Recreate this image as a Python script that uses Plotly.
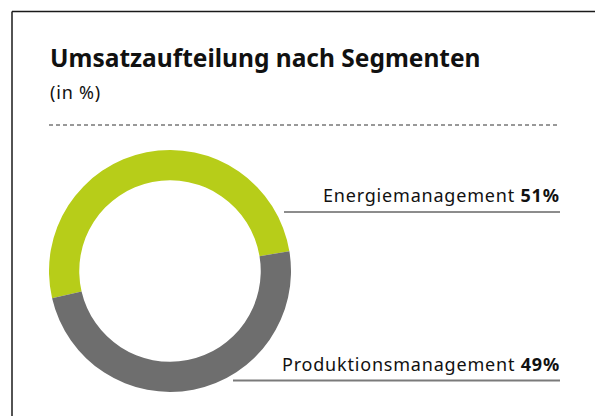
"""
Donut: Umsatzaufteilung nach Segmenten.
"""
import plotly.graph_objects as go

# Daten
segmente = ['Energiemanagement', 'Produktionsmanagement']
anteile = [51, 49]
farben = ['#b7cd19', '#6e6e6e']

W, H = 595, 416
FONT = 'Noto Sans'
SPACING = 'letter-spacing:0.8px'


def px(x, y):
    """Pixel (oben links) -> paper-Koordinaten."""
    return x / W, 1 - y / H


fig = go.Figure()

# Donut
x0, y0 = px(49, 392)
x1, y1 = px(291, 150)
fig.add_trace(go.Pie(
    labels=segmente,
    values=anteile,
    hole=0.75,
    sort=False,
    direction='clockwise',
    rotation=-103,
    marker=dict(colors=farben, line=dict(width=0)),
    textinfo='none',
    hoverinfo='skip',
    showlegend=False,
    domain=dict(x=[x0, x1], y=[y0, y1])
))

shapes = []
annotations = []

# Rahmen oben / links
shapes.append(dict(type='line', xref='paper', yref='paper',
                   x0=px(12, 11.5)[0], y0=px(12, 11.5)[1],
                   x1=1, y1=px(600, 11.5)[1],
                   line=dict(color='#1a1a1a', width=1.5)))
shapes.append(dict(type='line', xref='paper', yref='paper',
                   x0=px(12, 11.5)[0], y0=px(12, 11.5)[1],
                   x1=px(12, 420)[0], y1=0,
                   line=dict(color='#1a1a1a', width=1.5)))

# gestrichelte Trennlinie
shapes.append(dict(type='line', xref='paper', yref='paper',
                   x0=px(49, 125)[0], y0=px(49, 125)[1],
                   x1=px(560, 125)[0], y1=px(560, 125)[1],
                   line=dict(color='#333333', width=1, dash='4px,3px')))

# Titel
tx, ty = px(48, 58)
annotations.append(dict(text='<b>Umsatzaufteilung nach Segmenten</b>',
                        x=tx, y=ty, xref='paper', yref='paper',
                        xanchor='left', yanchor='middle', showarrow=False,
                        font=dict(family=FONT, size=24.5, color='#111111')))
tx, ty = px(48, 92)
annotations.append(dict(text=f'<span style="{SPACING}">(in %)</span>',
                        x=tx, y=ty, xref='paper', yref='paper',
                        xanchor='left', yanchor='middle', showarrow=False,
                        font=dict(family=FONT, size=18, color='#111111')))

# Beschriftungen mit Unterstrich
labels = [
    (segmente[0], anteile[0], 195, 212, 284, '#1a1a1a', 1),
    (segmente[1], anteile[1], 364, 380.5, 233, '#7a7a7a', 2),
]
for name, wert, ytxt, yline, xstart, lc, lw in labels:
    tx, ty = px(562, ytxt)
    annotations.append(dict(text=f'<span style="{SPACING}">{name} <b>{wert}%</b></span>',
                            x=tx, y=ty, xref='paper', yref='paper',
                            xanchor='right', yanchor='middle', showarrow=False,
                            font=dict(family=FONT, size=18, color='#111111')))
    shapes.append(dict(type='line', xref='paper', yref='paper',
                       x0=px(xstart, yline)[0], y0=px(xstart, yline)[1],
                       x1=px(560, yline)[0], y1=px(560, yline)[1],
                       line=dict(color=lc, width=lw)))

fig.update_layout(
    width=W,
    height=H,
    margin=dict(l=0, r=0, t=0, b=0),
    plot_bgcolor='white',
    paper_bgcolor='white',
    shapes=shapes,
    annotations=annotations
)

fig.write_html(
    "out.html",
    config=dict(displayModeBar=False),
    post_script="document.body.style.margin='0';document.body.style.overflow='hidden';"
)
